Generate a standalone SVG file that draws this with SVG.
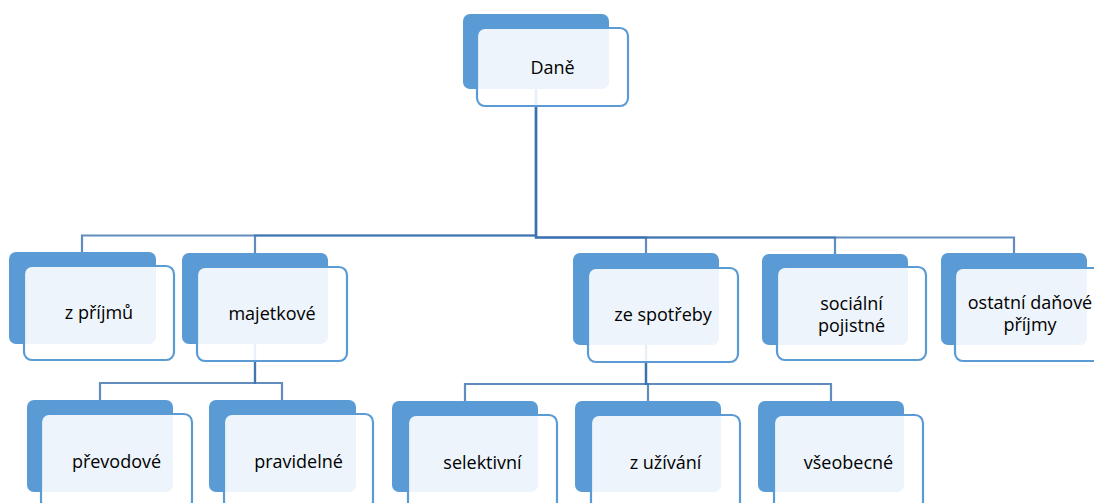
<svg xmlns="http://www.w3.org/2000/svg" width="1094" height="503" viewBox="0 0 1094 503">
<style>
.back{fill:#5B9BD5;}
.front{fill:#FFFFFF;fill-opacity:0.89;stroke:#5B9BD5;stroke-width:2.2;}
.lbl{font-family:"Open Sans","Liberation Sans",sans-serif;font-size:18px;fill:#000000;text-anchor:middle;}
.con{fill:none;stroke:#3A70AE;stroke-opacity:0.8;stroke-width:2.2;}
</style>
<rect width="1094" height="503" fill="#FFFFFF"/>
<g id="connectors">
<path class="con" d="M536,88 V235.5 H82 V252"/>
<path class="con" d="M536,88 V235.5 H255 V253"/>
<path class="con" d="M536,88 V237.5 H646 V253"/>
<path class="con" d="M536,88 V237.5 H835 V254"/>
<path class="con" d="M536,88 V237.5 H1014 V253"/>
<path class="con" d="M255,344 V383 H100 V400"/>
<path class="con" d="M255,344 V383 H282 V400"/>
<path class="con" d="M646,345 V384 H465 V401"/>
<path class="con" d="M646,345 V384 H648 V401"/>
<path class="con" d="M646,345 V384 H831 V401"/>
</g>
<g id="n-dane">
<rect class="back" x="463" y="14" width="146" height="75" rx="7"/>
<rect class="front" x="477" y="28" width="151" height="78" rx="8"/>
<text class="lbl" x="552.5" y="74">Daně</text>
</g>
<g id="n-prijmy">
<rect class="back" x="9" y="252" width="147" height="92" rx="7"/>
<rect class="front" x="24" y="266" width="150" height="94" rx="8"/>
<text class="lbl" x="99" y="319">z příjmů</text>
</g>
<g id="n-majetkove">
<rect class="back" x="182" y="253" width="146" height="91" rx="7"/>
<rect class="front" x="197" y="267" width="150" height="94" rx="8"/>
<text class="lbl" x="272" y="320">majetkové</text>
</g>
<g id="n-spotreby">
<rect class="back" x="573" y="253" width="146" height="92" rx="7"/>
<rect class="front" x="588" y="268" width="150" height="94" rx="8"/>
<text class="lbl" x="663" y="321">ze spotřeby</text>
</g>
<g id="n-socialni">
<rect class="back" x="762" y="254" width="146" height="91" rx="7"/>
<rect class="front" x="777" y="267" width="149" height="93" rx="8"/>
<text class="lbl" x="851.5" y="310">sociální</text>
<text class="lbl" x="851.5" y="332">pojistné</text>
</g>
<g id="n-ostatni">
<rect class="back" x="941" y="253" width="146" height="92" rx="7"/>
<rect class="front" x="955" y="268" width="150" height="93" rx="8"/>
<text class="lbl" x="1030" y="309">ostatní daňové</text>
<text class="lbl" x="1030" y="331">příjmy</text>
</g>
<g id="n-prevodove">
<rect class="back" x="27" y="400" width="146" height="92" rx="7"/>
<rect class="front" x="41" y="414" width="151" height="95" rx="8"/>
<text class="lbl" x="116.5" y="468">převodové</text>
</g>
<g id="n-pravidelne">
<rect class="back" x="209" y="400" width="147" height="92" rx="7"/>
<rect class="front" x="224" y="414" width="149" height="95" rx="8"/>
<text class="lbl" x="298.5" y="468">pravidelné</text>
</g>
<g id="n-selektivni">
<rect class="back" x="392" y="401" width="146" height="91" rx="7"/>
<rect class="front" x="408" y="415" width="149" height="95" rx="8"/>
<text class="lbl" x="482.5" y="469">selektivní</text>
</g>
<g id="n-uzivani">
<rect class="back" x="575" y="401" width="146" height="91" rx="7"/>
<rect class="front" x="591" y="415" width="149" height="95" rx="8"/>
<text class="lbl" x="665.5" y="469">z užívání</text>
</g>
<g id="n-vseobecne">
<rect class="back" x="758" y="401" width="146" height="91" rx="7"/>
<rect class="front" x="774" y="415" width="149" height="95" rx="8"/>
<text class="lbl" x="848.5" y="469">všeobecné</text>
</g>
</svg>
